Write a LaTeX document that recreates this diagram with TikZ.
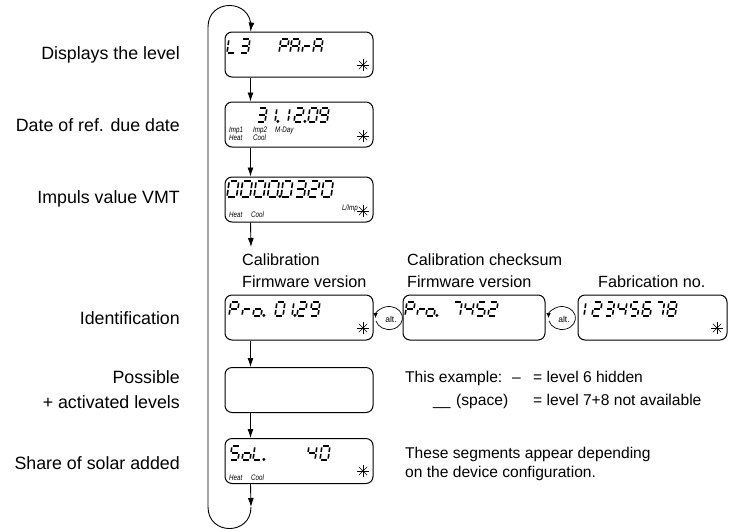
\documentclass[tikz,border=0pt]{standalone}
\usepackage{fontspec}
\setmainfont{Liberation Sans}
\usepackage{graphicx}
\usetikzlibrary{arrows.meta}

% seven-segment geometry
\def\dgW{8}\def\dgH{14}
\def\sga{(1.4,\dgH) -- ({\dgW-1.4},\dgH)}
\def\sgb{(\dgW,{\dgH-1.4}) -- (\dgW,{\dgH/2+1})}
\def\sgc{(\dgW,{\dgH/2-1}) -- (\dgW,1.4)}
\def\sgd{(1.4,0) -- ({\dgW-1.4},0)}
\def\sge{(0,{\dgH/2-1}) -- (0,1.4)}
\def\sgf{(0,{\dgH-1.4}) -- (0,{\dgH/2+1})}
\def\sgg{(1.4,{\dgH/2}) -- ({\dgW-1.4},{\dgH/2})}
\def\sgp{[fill] ({\dgW+2.8},0.6) circle[radius=0.5]}
\newcommand\dg[3]{%
  \begin{scope}[shift={(#1,#2)},x=1pt,y=1pt,xslant=0.14]
    \edef\seglist{#3}%
    \foreach \s in \seglist {\edef\tmp{\noexpand\draw[seg] \csname sg\s\endcsname;}\tmp}
  \end{scope}}
\def\sdZ{a,b,c,d,e,f}\def\sdI{b,c}\def\sdII{a,b,g,e,d}\def\sdIII{a,b,g,c,d}
\def\sdIV{f,g,b,c}\def\sdV{a,f,g,c,d}\def\sdVI{a,f,e,d,c,g}\def\sdVII{a,b,c}
\def\sdVIII{a,b,c,d,e,f,g}\def\sdIX{a,b,c,d,f,g}
\def\sdL{f,e,d}\def\sdP{a,b,f,g,e}\def\sdA{a,b,c,e,f,g}\def\sdr{e,g}\def\sdo{c,d,e,g}
\newcommand\tn[1]{\scalebox{0.78}[1]{#1}}

\tikzset{
  lcd/.style={draw, line width=1pt, rounded corners=7pt, minimum width=148pt, minimum height=45pt, inner sep=0pt},
  arr/.style={line width=0.9pt, -{Latex[length=9pt,width=6pt]}},
  seg/.style={line width=1.6pt, line cap=butt},
  lbl/.style={font=\fontsize{17.8}{20}\selectfont, anchor=base east, inner sep=0pt},
  capt/.style={font=\fontsize{16.2}{19}\selectfont, anchor=base west, inner sep=0pt},
  note/.style={font=\fontsize{15.6}{18}\selectfont, anchor=base west, inner sep=0pt},
  tiny/.style={font=\fontsize{8}{9}\selectfont\itshape, anchor=base west, inner sep=0pt},
  altl/.style={font=\fontsize{8.5}{9}\selectfont, inner sep=0pt},
  lstar/.pic={\foreach \a in {0,45,90,135}{\draw[line width=0.6pt] (\a:6pt) -- (\a+180:6pt);}
              \fill (0,0) circle[radius=1.1pt];}
}

\begin{document}
\begin{tikzpicture}[x=1pt,y=-1pt]
\useasboundingbox (0,0) rectangle (733,531);

% display boxes
\node[lcd] (b1) at (299,54.5) {};
\node[lcd] (b2) at (299,124.5) {};
\node[lcd] (b3) at (299,199.5) {};
\node[lcd] (b4) at (299,317.5) {};
\node[lcd] (b5) at (299,390) {};
\node[lcd] (b6) at (299,461) {};
\node[lcd, minimum width=142pt] (b7) at (474,317.5) {};
\node[lcd, minimum width=149pt] (b8) at (652.5,317.5) {};

% alt markers
\node[altl] (alt1) at (391,319) {alt.};
\node[altl] (alt2) at (564,319) {alt.};
\foreach \n in {alt1,alt2}{
  \begin{scope}[shift={([xshift=-2pt,yshift=1pt]\n.center)}, x=1pt, y=1pt]
    \draw[line width=0.7pt, -{Latex[length=5pt,width=4.5pt]}] (195:13.5 and 11.5) arc[start angle=195, end angle=540, x radius=13.5, y radius=11.5];
  \end{scope}}

% connectors
\coordinate (c3e) at (251,247);
\coordinate (lb) at (251,507);
\coordinate (ll) at (208,507);
\coordinate (lt) at (208,27);
\coordinate (rt) at (251,27);
\draw[arr] ([xshift=26pt]b1.south west) -- ([xshift=26pt]b2.north west);
\draw[arr] ([xshift=26pt]b2.south west) -- ([xshift=26pt]b3.north west);
\draw[arr] ([xshift=26pt]b3.south west) -- (c3e);
\draw[arr] ([xshift=26pt]b4.south west) -- ([xshift=26pt]b5.north west);
\draw[arr] ([xshift=26pt]b5.south west) -- ([xshift=26pt]b6.north west);
\draw[arr] ([xshift=26pt]b6.south west) -- (lb);
\draw[arr] (lb) .. controls (251,535.7) and (208,535.7) .. (ll) -- (lt)
  .. controls (208,-1.7) and (251,-1.7) .. (rt) -- ([xshift=26pt]b1.north west);

% left labels
\node[lbl] (l1) at (180,59) {Displays the level};
\node[lbl] (l2) at (180,131.5) {Date of ref. due date};
\node[lbl] (l3) at (180,203.5) {Impuls value VMT};
\node[lbl] (l4) at (180,324.5) {Identification};
\node[lbl] (l5) at (180,383.5) {Possible};
\node[lbl] (l6) at (180,408.5) {+ activated levels};
\node[lbl] (l7) at (180,469.5) {Share of solar added};

% captions
\node[capt] (c1) at (242,265) {Calibration};
\node[capt] (c2) at (242,287) {Firmware version};
\node[capt] (c3) at (407,265) {Calibration checksum};
\node[capt] (c4) at (407,287) {Firmware version};
\node[capt] (c5) at (598,287) {Fabrication no.};

% notes
\node[note] (n1) at (405,382.5) {This example:};
\node[note] (n2) at (512,382.5) {–};
\node[note] (n3) at (533,382.5) {= level 6 hidden};
\node[note] (n4) at (433,405.5) {\_\_};
\node[note] (n5) at (456,405.5) {(space)};
\node[note] (n6) at (533,405.5) {= level 7+8 not available};
\node[note] (n7) at (405,458.5) {These segments appear depending};
\node[note] (n8) at (405,477.5) {on the device configuration.};

% small LCD labels
\node[tiny] (t1) at (229,132) {\tn{Imp1}};
\node[tiny] (t2) at (229,140) {\tn{Heat}};
\node[tiny] (t3) at (253,132) {\tn{Imp2}};
\node[tiny] (t4) at (253,140) {\tn{Cool}};
\node[tiny] (t5) at (275,132) {\tn{M-Day}};
\node[tiny] (t6) at (229,217) {\tn{Heat}};
\node[tiny] (t7) at (251,217) {\tn{Cool}};
\node[tiny] (t8) at (342,210) {\tn{L/Imp}};
\node[tiny] (t9) at (229,480) {\tn{Heat}};
\node[tiny] (t10) at (251,480) {\tn{Cool}};

% stars
\pic at (363,65) {lstar};
\pic at (363,136) {lstar};
\pic at (363,211) {lstar};
\pic at (363,328) {lstar};
\pic at (363,471) {lstar};
\pic at (717,328) {lstar};

% B1: L3  PArA
\dg{227}{53}{\sdL}
\dg{240}{53}{\sdIII}
\dg{279}{53}{\sdP}
\dg{290}{53}{\sdA}
\dg{302}{53}{\sdr}
\dg{313}{53}{\sdA}
% B2: 31.12.09
\dg{257}{122}{\sdIII}
\dg{267}{122}{\sdI,p}
\dg{280}{122}{\sdI}
\dg{294}{122}{\sdII,p}
\dg{308}{122}{\sdZ}
\dg{319}{122}{\sdIX}
% B3: 0000.0320
\def\dgW{9.5}\def\dgH{16}
\dg{227}{197}{\sdZ}
\dg{240.5}{197}{\sdZ}
\dg{254}{197}{\sdZ}
\dg{267.5}{197}{\sdZ,p}
\dg{281}{197}{\sdZ}
\dg{294.5}{197}{\sdIII}
\dg{308}{197}{\sdII}
\dg{321.5}{197}{\sdZ}
\def\dgW{8}\def\dgH{14}
% B4: Pro. 01.29
\dg{229}{316}{\sdP}
\dg{242}{316}{\sdr}
\dg{253}{316}{\sdo,p}
\dg{275}{316}{\sdZ}
\dg{284}{316}{\sdI,p}
\dg{297}{316}{\sdII}
\dg{310}{316}{\sdIX}
% B6: SoL. 40
\dg{230}{460}{\sdV}
\dg{242}{460}{\sdo}
\dg{253}{460}{\sdL,p}
\dg{307}{460}{\sdIV}
\dg{320}{460}{\sdZ}
% B7: Pro. 7452
\dg{405}{316}{\sdP}
\dg{417}{316}{\sdr}
\dg{426}{316}{\sdo,p}
\dg{452}{316}{\sdVII}
\dg{464}{316}{\sdIV}
\dg{476}{316}{\sdV}
\dg{488}{316}{\sdII}
% B8: 12345678
\dg{576}{316}{\sdI}
\dg{592}{316}{\sdII}
\dg{604.5}{316}{\sdIII}
\dg{617}{316}{\sdIV}
\dg{629.5}{316}{\sdV}
\dg{642}{316}{\sdVI}
\dg{654.5}{316}{\sdVII}
\dg{667}{316}{\sdVIII}
\end{tikzpicture}
\end{document}
